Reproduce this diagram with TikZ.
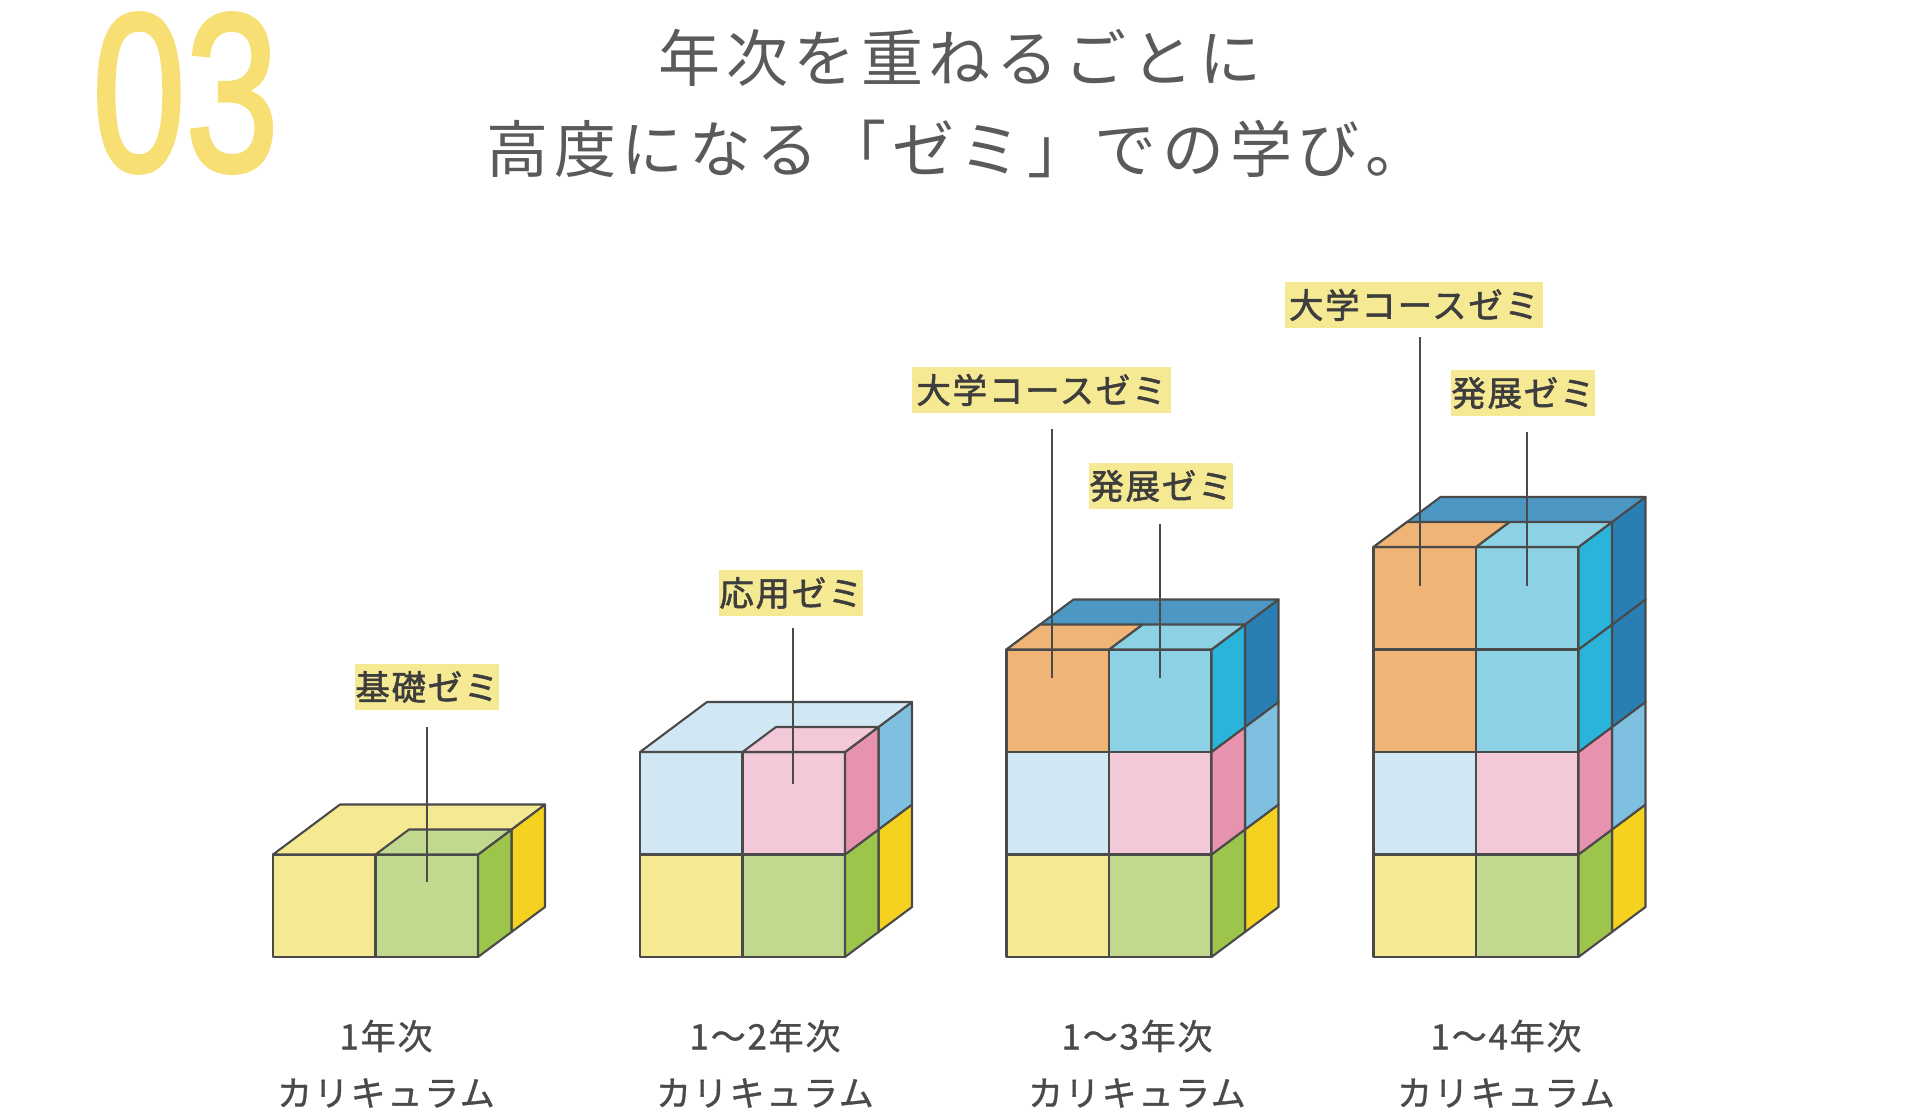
\documentclass[tikz,border=0pt]{standalone}
\usepackage{fontspec}
\setmainfont{Noto Sans CJK JP}
\newfontfamily\titlefnt[LetterSpace=9]{Noto Sans CJK JP}
\newfontfamily\labfnt[LetterSpace=5,FakeBold=1.6]{Noto Sans CJK JP}
\newfontfamily\capfnt[LetterSpace=5,FakeBold=1]{Noto Sans CJK JP}
\newfontfamily\numfnt[FakeBold=2]{Liberation Sans}
\definecolor{ink}{HTML}{4A4A4A}
\definecolor{inkd}{HTML}{3D3D3D}
\definecolor{ttl}{HTML}{5A5A5A}
\definecolor{lyel}{HTML}{F6E994}
\definecolor{lgrn}{HTML}{C1D98F}
\definecolor{dgrn}{HTML}{9DC54C}
\definecolor{dyel}{HTML}{F5D21F}
\definecolor{lblu}{HTML}{D2E7F4}
\definecolor{lpnk}{HTML}{F3C9D9}
\definecolor{dpnk}{HTML}{E793B0}
\definecolor{mblu}{HTML}{7FBFE0}
\definecolor{lorg}{HTML}{F0B576}
\definecolor{lcyn}{HTML}{8DD1E5}
\definecolor{dcyn}{HTML}{2AB4D9}
\definecolor{tblu}{HTML}{4C97C3}
\definecolor{dblu}{HTML}{297EB4}
\definecolor{numc}{HTML}{F7DF74}
\tikzset{
  face/.style={draw=ink,line width=2.1pt,line join=round},
  leader/.style={draw=ink,line width=1.8pt},
  tagbox/.style={fill=lyel,inner sep=0pt,minimum height=46pt,text=inkd,font=\labfnt\fontsize{34.5}{34.5}\selectfont},
  capline/.style={inner sep=0pt,text=ink,font=\capfnt\fontsize{35}{35}\selectfont},
  ttlline/.style={inner sep=0pt,text=ttl,font=\titlefnt\fontsize{62}{62}\selectfont}
}
% #1 x, #2 y bottom, #3 left, #4 right, #5 right side, #6 back side
\newcommand\layerbox[6]{%
  \begin{scope}[shift={(#1,#2)}]
    \fill[#6,face] (238.5,-25) -- (272,-50) -- (272,-152.5) -- (238.5,-127.5) -- cycle;
    \fill[#3,face] (0,0) rectangle (102.5,-102.5);
    \fill[#4,face] (102.5,0) rectangle (205,-102.5);
    \fill[#5,face] (205,0) -- (238.5,-25) -- (238.5,-127.5) -- (205,-102.5) -- cycle;
  \end{scope}}
% #1 x, #2 y of top front edge, #3 full top colour, #4 right half top colour
\newcommand\topfull[4]{%
  \begin{scope}[shift={(#1,#2)}]
    \fill[#3,face] (0,0) -- (67,-50) -- (272,-50) -- (205,0) -- cycle;
    \fill[#4,face] (102.5,0) -- (136,-25) -- (238.5,-25) -- (205,0) -- cycle;
  \end{scope}}
% additional left half for the blue roofs
\newcommand\topleftpart[3]{%
  \begin{scope}[shift={(#1,#2)}]
    \fill[#3,face] (0,0) -- (33.5,-25) -- (136,-25) -- (102.5,0) -- cycle;
  \end{scope}}
\begin{document}
\begin{tikzpicture}[x=1pt,y=-1pt]
\useasboundingbox (0,0) rectangle (1920,1110);
% number
\node[inner sep=0pt,text=numc] (num) at (185.5,93) {\scalebox{0.745}[1]{\numfnt\fontsize{225}{225}\selectfont 03}};
% title
\node[ttlline] (t1) at (960,58) {年次を重ねるごとに};
\node[ttlline] (t2) at (957,149) {高度になる「ゼミ」での学び。};
% stack 1
\layerbox{273}{957}{lyel}{lgrn}{dgrn}{dyel}
\topfull{273}{854.5}{lyel}{lgrn}
% stack 2
\layerbox{640}{957}{lyel}{lgrn}{dgrn}{dyel}
\layerbox{640}{854.5}{lblu}{lpnk}{dpnk}{mblu}
\topfull{640}{752}{lblu}{lpnk}
% stack 3
\layerbox{1006.5}{957}{lyel}{lgrn}{dgrn}{dyel}
\layerbox{1006.5}{854.5}{lblu}{lpnk}{dpnk}{mblu}
\layerbox{1006.5}{752}{lorg}{lcyn}{dcyn}{dblu}
\topfull{1006.5}{649.5}{tblu}{lcyn}
\topleftpart{1006.5}{649.5}{lorg}
% stack 4
\layerbox{1373.5}{957}{lyel}{lgrn}{dgrn}{dyel}
\layerbox{1373.5}{854.5}{lblu}{lpnk}{dpnk}{mblu}
\layerbox{1373.5}{752}{lorg}{lcyn}{dcyn}{dblu}
\layerbox{1373.5}{649.5}{lorg}{lcyn}{dcyn}{dblu}
\topfull{1373.5}{547}{tblu}{lcyn}
\topleftpart{1373.5}{547}{lorg}
% tags
\node[tagbox,minimum width=144pt] (a1) at (427,687) {基礎ゼミ};
\node[tagbox,minimum width=144pt] (a2) at (791,593) {応用ゼミ};
\node[tagbox,minimum width=259pt] (a3) at (1041.5,390) {大学コースゼミ};
\node[tagbox,minimum width=144pt] (a4) at (1161,486) {発展ゼミ};
\node[tagbox,minimum width=258pt] (a5) at (1414,305) {大学コースゼミ};
\node[tagbox,minimum width=144pt] (a6) at (1523,393) {発展ゼミ};
% leaders
\coordinate (s1) at (427,727); \coordinate (e1) at (427,882);
\coordinate (s2) at (793,628); \coordinate (e2) at (793,784);
\coordinate (s3) at (1052,429); \coordinate (e3) at (1052,678);
\coordinate (s4) at (1160,524); \coordinate (e4) at (1160,678);
\coordinate (s5) at (1420,337); \coordinate (e5) at (1420,586);
\coordinate (s6) at (1527,432); \coordinate (e6) at (1527,586);
\foreach \i in {1,...,6} \draw[leader] (s\i) -- (e\i);
% captions
\node[capline] (c1a) at (386,1036) {1年次};
\node[capline] (c1b) at (386,1093) {カリキュラム};
\node[capline] (c2a) at (765,1036) {1〜2年次};
\node[capline] (c2b) at (765,1093) {カリキュラム};
\node[capline] (c3a) at (1137,1036) {1〜3年次};
\node[capline] (c3b) at (1137,1093) {カリキュラム};
\node[capline] (c4a) at (1506,1036) {1〜4年次};
\node[capline] (c4b) at (1506,1093) {カリキュラム};
\end{tikzpicture}
\end{document}
